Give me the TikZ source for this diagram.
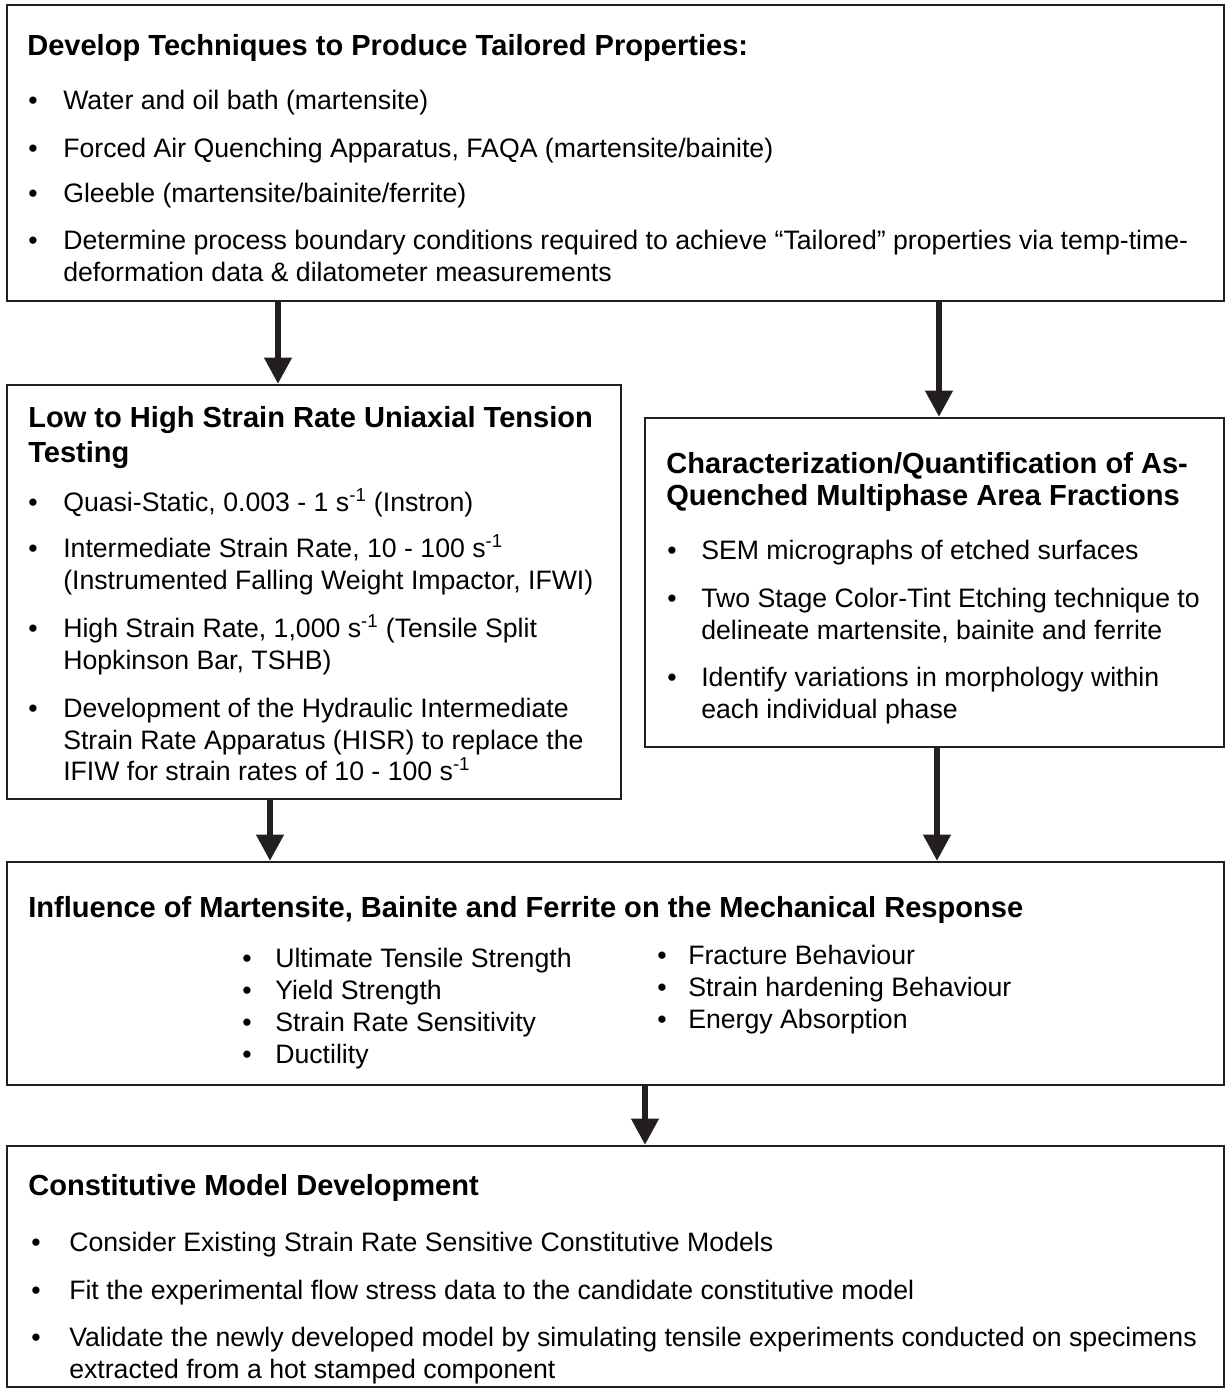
\documentclass[tikz,border=0pt]{standalone}
\usepackage{fontspec}
\setmainfont{Liberation Sans}
\usetikzlibrary{arrows.meta,fit}
\definecolor{ink}{RGB}{35,31,32}
\begin{document}
\begin{tikzpicture}[x=0.75pt,y=-0.75pt,
  box/.style={draw=ink, line width=1.9pt, inner sep=0pt},
  ttl/.style={anchor=base west, inner sep=0pt, font=\fontsize{21.8pt}{26pt}\selectfont\bfseries},
  txt/.style={anchor=base west, inner sep=0pt, font=\fontsize{20pt}{24pt}\selectfont},
  bul/.style={anchor=base west, inner sep=0pt, font=\fontsize{20pt}{24pt}\selectfont},
  arr/.style={draw=ink, line width=3.8pt, -{Triangle[width=20pt,length=19.5pt]}}]
\useasboundingbox (0,0) rectangle (1225,1390);

% boxes
\node[box, fit={(7,5) (1224,301)}] (b1) {};
\node[box, fit={(7,385) (621,799)}] (b2) {};
\node[box, fit={(645,418) (1224,747)}] (b3) {};
\node[box, fit={(7,862) (1224,1085)}] (b4) {};
\node[box, fit={(7,1146) (1224,1387)}] (b5) {};

% box 1
\node[ttl] (t1) at (27,55) {Develop Techniques to Produce Tailored Properties:};
\node[bul] (d11) at (28,109.5) {•};
\node[txt] (x11) at (63,109.5) {Water and oil bath (martensite)};
\node[bul] (d12) at (28,157.5) {•};
\node[txt] (x12) at (63,157.5) {Forced Air Quenching Apparatus, FAQA (martensite/bainite)};
\node[bul] (d13) at (28,202.5) {•};
\node[txt] (x13) at (63,202.5) {Gleeble (martensite/bainite/ferrite)};
\node[bul] (d14) at (28,249.5) {•};
\node[txt] (x14) at (63,249.5) {Determine process boundary conditions required to achieve “Tailored” properties via temp-time-};
\node[txt] (x15) at (63,281.5) {deformation data \& dilatometer measurements};

% box 2
\node[ttl] (t2a) at (28,427) {Low to High Strain Rate Uniaxial Tension};
\node[ttl] (t2b) at (28,462) {Testing};
\node[bul] (d21) at (28,511.5) {•};
\node[txt] (x21) at (63,511.5) {Quasi-Static, 0.003 - 1 s\textsuperscript{-1} (Instron)};
\node[bul] (d22) at (28,557.5) {•};
\node[txt] (x22) at (63,557.5) {Intermediate Strain Rate, 10 - 100 s\textsuperscript{-1}};
\node[txt] (x23) at (63,589.5) {(Instrumented Falling Weight Impactor, IFWI)};
\node[bul] (d24) at (28,637.5) {•};
\node[txt] (x24) at (63,637.5) {High Strain Rate, 1,000 s\textsuperscript{-1} (Tensile Split};
\node[txt] (x25) at (63,669.5) {Hopkinson Bar, TSHB)};
\node[bul] (d26) at (28,717.5) {•};
\node[txt] (x26) at (63,717.5) {Development of the Hydraulic Intermediate};
\node[txt] (x27) at (63,749.5) {Strain Rate Apparatus (HISR) to replace the};
\node[txt] (x28) at (63,780.5) {IFIW for strain rates of 10 - 100 s\textsuperscript{-1}};

% box 3
\node[ttl] (t3a) at (666,473) {Characterization/Quantification of As-};
\node[ttl] (t3b) at (666,505) {Quenched Multiphase Area Fractions};
\node[bul] (d31) at (667,559.5) {•};
\node[txt] (x31) at (701,559.5) {SEM micrographs of etched surfaces};
\node[bul] (d32) at (667,607.5) {•};
\node[txt] (x32) at (701,607.5) {Two Stage Color-Tint Etching technique to};
\node[txt] (x33) at (701,639.5) {delineate martensite, bainite and ferrite};
\node[bul] (d34) at (667,686.5) {•};
\node[txt] (x34) at (701,686.5) {Identify variations in morphology within};
\node[txt] (x35) at (701,718.5) {each individual phase};

% box 4
\node[ttl] (t4) at (28,917) {Influence of Martensite, Bainite and Ferrite on the Mechanical Response};
\node[bul] (d41) at (242,967.5) {•};
\node[txt] (x41) at (275,967.5) {Ultimate Tensile Strength};
\node[bul] (d42) at (242,999.5) {•};
\node[txt] (x42) at (275,999.5) {Yield Strength};
\node[bul] (d43) at (242,1031.5) {•};
\node[txt] (x43) at (275,1031.5) {Strain Rate Sensitivity};
\node[bul] (d44) at (242,1063.5) {•};
\node[txt] (x44) at (275,1063.5) {Ductility};
\node[bul] (d45) at (657,964.5) {•};
\node[txt] (x45) at (688,964.5) {Fracture Behaviour};
\node[bul] (d46) at (657,996.5) {•};
\node[txt] (x46) at (688,996.5) {Strain hardening Behaviour};
\node[bul] (d47) at (657,1028.5) {•};
\node[txt] (x47) at (688,1028.5) {Energy Absorption};

% box 5
\node[ttl] (t5) at (28,1195) {Constitutive Model Development};
\node[bul] (d51) at (31,1251.5) {•};
\node[txt] (x51) at (69,1251.5) {Consider Existing Strain Rate Sensitive Constitutive Models};
\node[bul] (d52) at (31,1299.5) {•};
\node[txt] (x52) at (69,1299.5) {Fit the experimental flow stress data to the candidate constitutive model};
\node[bul] (d53) at (31,1346.5) {•};
\node[txt] (x53) at (69,1346.5) {Validate the newly developed model by simulating tensile experiments conducted on specimens};
\node[txt] (x54) at (69,1378) {extracted from a hot stamped component};

% arrow columns
\coordinate (c1) at (278,0);
\coordinate (c2) at (939,0);
\coordinate (c3) at (270,0);
\coordinate (c4) at (937,0);
\coordinate (c5) at (645,0);

\draw[arr] (b1.south -| c1) -- (b2.north -| c1);
\draw[arr] (b1.south -| c2) -- (b3.north -| c2);
\draw[arr] (b2.south -| c3) -- (b4.north -| c3);
\draw[arr] (b3.south -| c4) -- (b4.north -| c4);
\draw[arr] (b4.south -| c5) -- (b5.north -| c5);
\end{tikzpicture}
\end{document}
